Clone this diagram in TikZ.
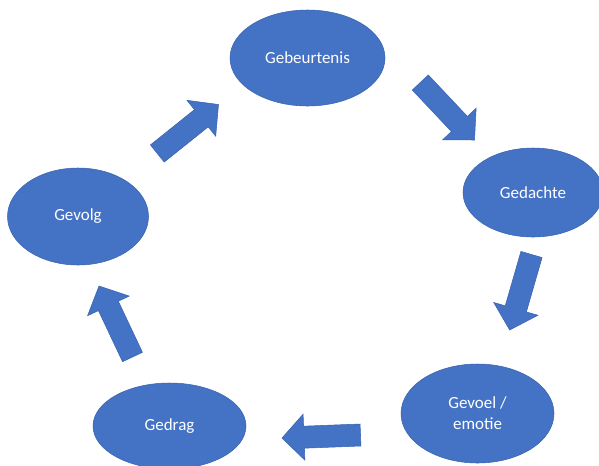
\documentclass[tikz,border=0pt]{standalone}
\usepackage{fontspec}
\setmainfont{Carlito}
\usetikzlibrary{calc,shapes.geometric}

\definecolor{cycleblue}{HTML}{4472C4}
\definecolor{cycleline}{HTML}{3A63AE}

\tikzset{
    stage/.style={ellipse, fill=cycleblue, draw=cycleline, line width=0.4pt,
        inner sep=0pt, align=center, text=white,
        font=\fontsize{12.75}{15.75}\selectfont},
    flowarrow/.style={fill=cycleblue, draw=cycleline, line width=0.4pt, line join=miter},
}

% block arrow from tail #1 to tip #2
\newcommand\blockarrow[2]{%
    \coordinate (#2b) at ($(#2)!16.5pt!(#1)$);
    \filldraw[flowarrow] ($(#1)!8.25pt!90:(#2)$) -- ($(#2b)!8.25pt!90:(#2)$)
        -- ($(#2b)!17.25pt!90:(#2)$) -- (#2) -- ($(#2b)!17.25pt!-90:(#2)$)
        -- ($(#2b)!8.25pt!-90:(#2)$) -- ($(#1)!8.25pt!-90:(#2)$) -- cycle;}

\begin{document}
\begin{tikzpicture}[x=0.75pt, y=-0.75pt]
    \useasboundingbox (0,0) rectangle (599,465);

    \node[stage, minimum width=116.25pt, minimum height=72pt] (geb) at (307.5,58) {Gebeurtenis};
    \node[stage, minimum width=105pt, minimum height=66.75pt] (ged) at (533,192.5) {Gedachte};
    \node[stage, minimum width=114.75pt, minimum height=74.25pt] (gev) at (477.5,413.5) {Gevoel /\\emotie};
    \node[stage, minimum width=114.75pt, minimum height=64.5pt] (gdr) at (169.5,426) {Gedrag};
    \node[stage, minimum width=105.75pt, minimum height=72.75pt] (gvl) at (78,216.5) {Gevolg};

    \coordinate (t1) at (420.3,82.5);
    \coordinate (h1) at (474.5,140);
    \coordinate (t2) at (531.5,254.5);
    \coordinate (h2) at (509.7,330);
    \coordinate (t3) at (360.5,435);
    \coordinate (h3) at (282,438);
    \coordinate (t4) at (132.5,357);
    \coordinate (h4) at (99,286);
    \coordinate (t5) at (157.3,153.5);
    \coordinate (h5) at (218.5,104.5);

    \blockarrow{t1}{h1}
    \blockarrow{t2}{h2}
    \blockarrow{t3}{h3}
    \blockarrow{t4}{h4}
    \blockarrow{t5}{h5}
\end{tikzpicture}
\end{document}
